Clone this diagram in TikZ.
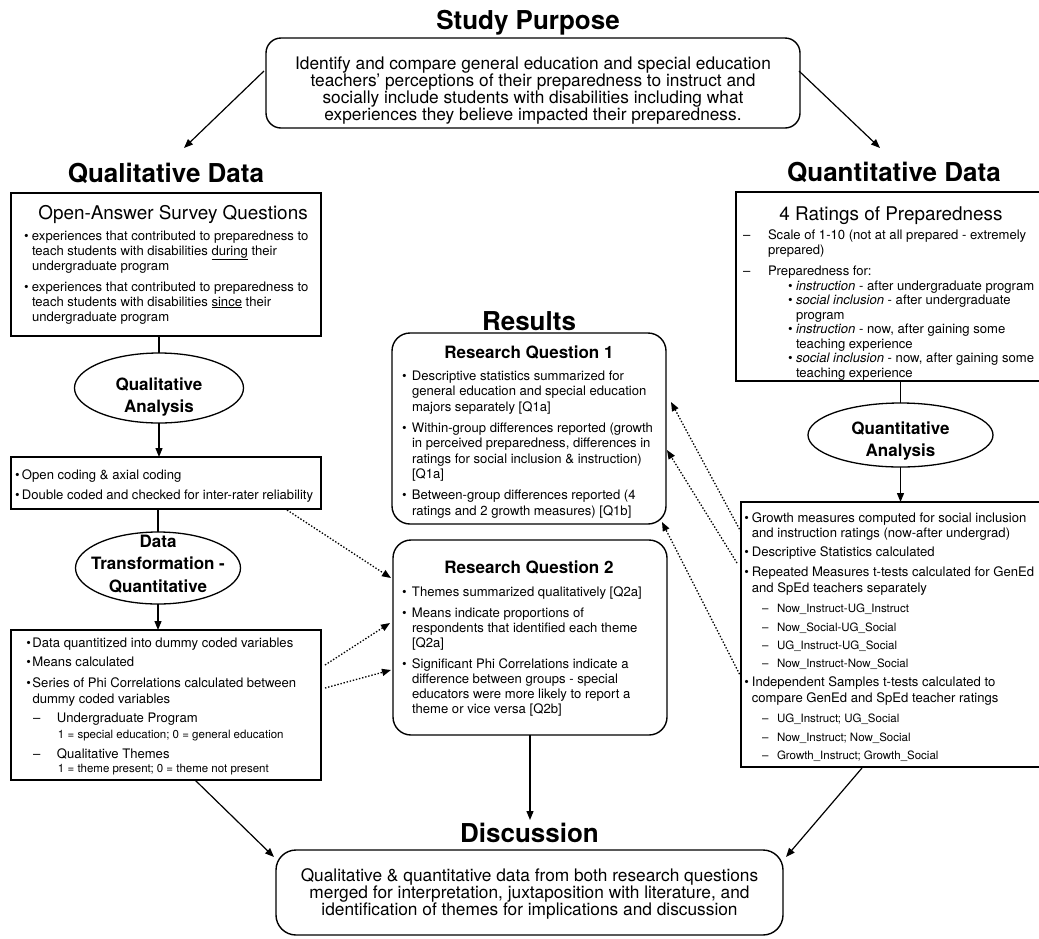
\documentclass[tikz,border=0pt]{standalone}
\usepackage{fontspec}
\setmainfont{TeX Gyre Heros}
\usetikzlibrary{arrows.meta,shapes.geometric}
\newcommand{\myfs}[2]{\fontsize{#1}{#2}\selectfont}
\newcommand{\mybul}[1]{\makebox[#1][l]{\textbullet}}
\newcommand{\mydash}[1]{\makebox[#1][l]{–}}
\begin{document}
\begin{tikzpicture}[x=1pt,y=-1pt,
  sec/.style={font=\myfs{26}{28}\bfseries, anchor=base, inner sep=0},
  sqbox/.style={draw, line width=1.4pt, anchor=north west, inner sep=0, outer sep=0},
  rbox/.style={sqbox, rounded corners=18pt},
  ell/.style={draw, ellipse, line width=1.3pt, inner sep=0, outer sep=0},
  ellt/.style={font=\myfs{17}{22}\bfseries, align=center, anchor=north, inner sep=0},
  boxt/.style={anchor=base, inner sep=0, font=\myfs{18.9}{20}},
  rqt/.style={anchor=base, inner sep=0, font=\myfs{17}{20}\bfseries},
  tx/.style={anchor=north west, inner sep=0, outer sep=0, align=left},
  ctx/.style={anchor=north, inner sep=0, outer sep=0, align=center},
  arr/.style={line width=1.2pt, -{Triangle[length=9pt,width=7pt]}},
  darr/.style={line width=1.3pt, dash pattern=on 1.4pt off 1.8pt, -{Triangle[length=9pt,width=7pt]}},
  ln/.style={line width=1.2pt}
]
\useasboundingbox (0,0) rectangle (1039,938);

% section titles
\node[sec] (tpurp) at (528,29) {Study Purpose};
\node[sec] (tqual) at (166,182) {Qualitative Data};
\node[sec] (tquan) at (894,181) {Quantitative Data};
\node[sec] (tres) at (529,330) {Results};
\node[sec] (tdisc) at (529.5,842) {Discussion};

% purpose
\node[rbox, rounded corners=15pt, minimum width=534pt, minimum height=90pt] (purp) at (266,38) {};
\node[ctx, font=\myfs{17.3}{17.3}] (purpt) at (533,56) {\rule{0pt}{13pt}Identify and compare general education and special education\\teachers’ perceptions of their preparedness to instruct and\\socially include students with disabilities including what\\experiences they believe impacted their preparedness.};

% left column
\node[sqbox, minimum width=310pt, minimum height=143pt] (q1) at (11,193) {};
\node[boxt] (q1t) at (173,219) {Open-Answer Survey Questions};
\node[tx, font=\myfs{13.1}{15}] (q1b) at (24,228) {\rule{0pt}{12pt}\mybul{8pt}experiences that contributed to preparedness to\\
\hspace*{8pt}teach students with disabilities \underline{during} their\\
\hspace*{8pt}undergraduate program\\[6pt]
\mybul{8pt}experiences that contributed to preparedness to\\
\hspace*{8pt}teach students with disabilities \underline{since} their\\
\hspace*{8pt}undergraduate program};

\node[ell, minimum width=169pt, minimum height=70pt] (e1) at (159,388) {};
\node[ellt] (e1t) at (159,377.5) {\rule{0pt}{12.5pt}Qualitative\\Analysis};

\node[sqbox, minimum width=310pt, minimum height=52pt] (q2) at (11,457) {};
\node[tx, font=\myfs{13.1}{20}] (q2b) at (15,467) {\rule{0pt}{12pt}\mybul{7pt}Open coding \& axial coding\\\mybul{7pt}Double coded and checked for inter-rater reliability};

\node[ell, minimum width=165pt, minimum height=72pt] (e2) at (158,568) {};
\node[ellt, font=\myfs{17}{22.5}\bfseries] (e2t) at (158,534.5) {\rule{0pt}{12.5pt}Data\\Transformation -\\Quantitative};

\node[sqbox, minimum width=310pt, minimum height=150pt] (q3) at (11,630) {};
\node[tx, font=\myfs{13.1}{15.5}] (q3b) at (26.5,635) {\rule{0pt}{12pt}\mybul{6pt}Data quantitized into dummy coded variables\\[3.5pt]
\mybul{6pt}Means calculated\\[5.5pt]
\mybul{6pt}Series of Phi Correlations calculated between\\[0.5pt]
\hspace*{6pt}dummy coded variables\\[4pt]
\hspace*{6.5pt}\mydash{24pt}Undergraduate Program\\
\hspace*{31.5pt}{\myfs{11.5}{13}1 = special education; 0 = general education}\\[4.5pt]
\hspace*{6.5pt}\mydash{24pt}Qualitative Themes\\[-1.5pt]
\hspace*{31.5pt}{\myfs{11.5}{13}1 = theme present; 0 = theme not present}};

\draw[ln] (q1.south -| e1.north) -- (e1.north);
\draw[arr] (e1.south) -- (e1.south |- q2.north);
\draw[ln] (q2.south -| e2.north) -- (e2.north);
\draw[arr] (e2.south) -- (e2.south |- q3.north);

% results
\node[rbox, minimum width=274pt, minimum height=191pt] (rq1) at (392,333) {};
\node[rqt] (rq1t) at (529,358) {Research Question 1};
\node[tx, font=\myfs{13.1}{15.5}] (rq1b) at (402,368) {\rule{0pt}{12pt}\mybul{10pt}Descriptive statistics summarized for\\
\hspace*{10pt}general education and special education\\
\hspace*{10pt}majors separately [Q1a]\\[5.5pt]
\mybul{10pt}Within-group differences reported (growth\\
\hspace*{10pt}in perceived preparedness, differences in\\
\hspace*{10pt}ratings for social inclusion \& instruction)\\
\hspace*{10pt}[Q1a]\\[5.5pt]
\mybul{10pt}Between-group differences reported (4\\
\hspace*{10pt}ratings and 2 growth measures) [Q1b]};

\node[rbox, minimum width=274pt, minimum height=195pt] (rq2) at (393,540) {};
\node[rqt] (rq2t) at (529,573) {Research Question 2};
\node[tx, font=\myfs{13.1}{15}] (rq2b) at (402,584) {\rule{0pt}{12pt}\mybul{10pt}Themes summarized qualitatively [Q2a]\\[6pt]
\mybul{10pt}Means indicate proportions of\\
\hspace*{10pt}respondents that identified each theme\\
\hspace*{10pt}[Q2a]\\[6pt]
\mybul{10pt}Significant Phi Correlations indicate a\\
\hspace*{10pt}difference between groups - special\\
\hspace*{10pt}educators were more likely to report a\\
\hspace*{10pt}theme or vice versa [Q2b]};

% right column
\node[sqbox, minimum width=306pt, minimum height=189pt] (r1) at (736,192) {};
\node[boxt] (r1t) at (891,220) {4 Ratings of Preparedness};
\node[tx, font=\myfs{13.1}{15}] (r1b) at (743,227) {\rule{0pt}{12pt}\mydash{25pt}Scale of 1-10 (not at all prepared - extremely\\
\hspace*{25pt}prepared)\\[6pt]
\mydash{25pt}Preparedness for:\\
\hspace*{45pt}\mybul{8pt}\textit{instruction} - after undergraduate program\\[-0.5pt]
\hspace*{45pt}\mybul{8pt}\textit{social inclusion} - after undergraduate\\[-0.5pt]
\hspace*{53pt}program\\[-0.5pt]
\hspace*{45pt}\mybul{8pt}\textit{instruction} - now, after gaining some\\[-0.5pt]
\hspace*{53pt}teaching experience\\[-0.5pt]
\hspace*{45pt}\mybul{8pt}\textit{social inclusion} - now, after gaining some\\[-0.5pt]
\hspace*{53pt}teaching experience};

\node[ell, minimum width=185pt, minimum height=64pt] (e3) at (900.5,435) {};
\node[ellt] (e3t) at (900.5,422) {\rule{0pt}{12.5pt}Quantitative\\Analysis};

\node[sqbox, minimum width=301pt, minimum height=265pt] (r4) at (741,502) {};
\node[tx, font=\myfs{13.1}{15.5}] (r4b) at (744.4,510) {\rule{0pt}{12pt}\mybul{7.5pt}Growth measures computed for social inclusion\\
\hspace*{7.5pt}and instruction ratings (now-after undergrad)\\[3pt]
\mybul{7.5pt}Descriptive Statistics calculated\\[4.5pt]
\mybul{7.5pt}Repeated Measures t-tests calculated for GenEd\\[0.5pt]
\hspace*{7.5pt}and SpEd teachers separately\\[4.5pt]
\hspace*{17.6pt}{\myfs{11.5}{13}\mydash{15pt}Now\_Instruct-UG\_Instruct}\\[3.5pt]
\hspace*{17.6pt}{\myfs{11.5}{13}\mydash{15pt}Now\_Social-UG\_Social}\\[2.5pt]
\hspace*{17.6pt}{\myfs{11.5}{13}\mydash{15pt}UG\_Instruct-UG\_Social}\\[2.5pt]
\hspace*{17.6pt}{\myfs{11.5}{13}\mydash{15pt}Now\_Instruct-Now\_Social}\\[3.5pt]
\mybul{7.5pt}Independent Samples t-tests calculated to\\[0.5pt]
\hspace*{7.5pt}compare GenEd and SpEd teacher ratings\\[4.5pt]
\hspace*{17.6pt}{\myfs{11.5}{13}\mydash{15pt}UG\_Instruct; UG\_Social}\\[3.5pt]
\hspace*{17.6pt}{\myfs{11.5}{13}\mydash{15pt}Now\_Instruct; Now\_Social}\\[2.5pt]
\hspace*{17.6pt}{\myfs{11.5}{13}\mydash{15pt}Growth\_Instruct; Growth\_Social}};

\draw[ln] (r1.south -| e3.north) -- (e3.north);
\draw[arr] (e3.south) -- (e3.south |- r4.north);

% discussion
\node[rbox, rounded corners=20pt, minimum width=507pt, minimum height=85pt] (disc) at (276,850) {};
\node[ctx, font=\myfs{17.3}{16}] (disct) at (529.5,868) {\rule{0pt}{13pt}Qualitative \& quantitative data from both research questions\\merged for interpretation, juxtaposition with literature, and\\identification of themes for implications and discussion};

% connector coordinates
\coordinate (pl) at (264,71);
\coordinate (ql) at (184,148);
\coordinate (pr) at (799,71);
\coordinate (qr) at (880,148);
\coordinate (dt) at (530,820);
\coordinate (c1) at (195,780);
\coordinate (c1e) at (274,857);
\coordinate (c2) at (862,768);
\coordinate (c2e) at (786,857);
\coordinate (d1s) at (287,510);
\coordinate (d1e) at (391,578);
\coordinate (d2s) at (325,665);
\coordinate (d2e) at (390,623);
\coordinate (d3s) at (325,688);
\coordinate (d3e) at (391,670);
\coordinate (rd1s) at (741,532);
\coordinate (rd1e) at (671,402);
\coordinate (rd2s) at (737,563);
\coordinate (rd2e) at (667,450);
\coordinate (rd3s) at (741,677);
\coordinate (rd3e) at (662,522);

\draw[arr] (pl) -- (ql);
\draw[arr] (pr) -- (qr);
\draw[arr] (rq2.south) -- (dt);
\draw[arr] (c1) -- (c1e);
\draw[arr] (c2) -- (c2e);
\draw[darr] (d1s) -- (d1e);
\draw[darr] (d2s) -- (d2e);
\draw[darr] (d3s) -- (d3e);
\draw[darr] (rd1s) -- (rd1e);
\draw[darr] (rd2s) -- (rd2e);
\draw[darr] (rd3s) -- (rd3e);
\end{tikzpicture}
\end{document}
